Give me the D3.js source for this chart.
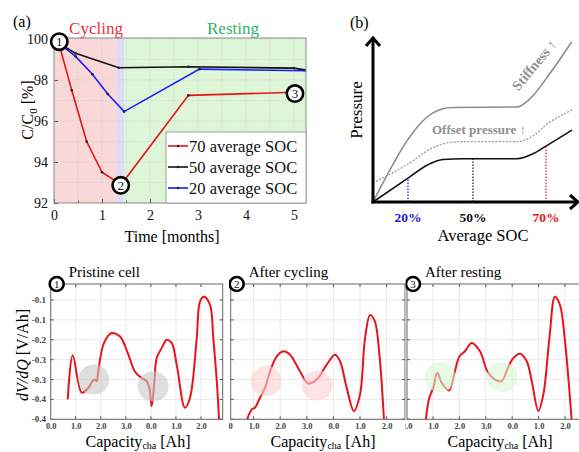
<!DOCTYPE html>
<html><head><meta charset="utf-8">
<script src="https://cdn.jsdelivr.net/npm/d3@7"></script>
<style>
html,body{margin:0;padding:0;background:#fff;}
svg{display:block;}
svg text{font-family:"Liberation Serif","Times New Roman",serif;}
</style></head><body>
<svg id="fig" width="579" height="452" font-family="Liberation Serif"></svg>
<script>
// ---------- (a) capacity retention over time ----------
const timeTicks = [0, 1, 2, 3, 4, 5];
const timeMinorTicks = [0.5, 1.5, 2.5, 3.5, 4.5];
const capTicks = [92, 94, 96, 98, 100];
const capMinorTicks = [93, 95, 97, 99];
const phaseNames = ["Cycling", "Resting"];
const phaseBounds = [0, 1.31, 1.46, 5.25];   // cycling start, cycling end, resting start, end
const seriesNames = ["70 average SOC", "50 average SOC", "20 average SOC"];
const seriesColors = ["#e8141c", "#111111", "#1a1aff"];
const soc70Time = [0.1, 0.37, 0.68, 1.0, 1.4, 2.8, 5.0];
const soc70Cap  = [99.8, 97.5, 95.0, 93.5, 92.9, 97.25, 97.4];
const soc50Time = [0.1, 0.45, 1.35, 2.8, 5.0, 5.25];
const soc50Cap  = [99.8, 99.3, 98.6, 98.65, 98.58, 98.48];
const soc20Time = [0.1, 0.45, 0.8, 1.12, 1.46, 3.03, 5.25];
const soc20Cap  = [99.8, 99.15, 98.28, 97.32, 96.46, 98.53, 98.45];
const stageTime = [0.11, 1.39, 5.02];
const stageCap  = [99.87, 92.86, 97.34];

// ---------- (b) schematic pressure vs average SOC ----------
const socLabels = ["20%", "50%", "70%"];
const socLabelColors = ["#1a1acc", "#111111", "#e8141c"];
const socU = [17.5, 50, 86.5];
const baseU = [0, 17.5, 27, 35, 45, 72, 80, 86.5, 99.5];
const baseV = [0, 14.5, 22.3, 25.8, 26.2, 26.2, 29.2, 33.9, 43.6];
const offsetU = [0, 17.5, 30, 40, 50, 72, 80, 86.5, 99.5];
const offsetV = [11.5, 23, 33, 36.3, 36.6, 36.6, 40, 46.7, 55.8];
const stiffU = [0, 30, 35, 40, 72, 78, 88.5, 99.3];
const stiffV = [0, 54, 56.5, 57.3, 57.6, 62, 78, 97];

// ---------- (c) dV/dQ curves ----------
const capTickValues = [0, 1, 2, 3, 4, 5, 6];
const capTickLabels = ["0.0", "1.0", "2.0", "3.0", "0.0", "1.0", "2.0"];
const dvTickValues = [-0.10, -0.15, -0.20, -0.25, -0.30, -0.35, -0.40];
const dvTickLabels = ["-0.1", "-0.1", "-0.2", "-0.3", "-0.3", "-0.4", "-0.4"];
const cellTitles = ["Pristine cell", "After cycling", "After resting"];
const pristineQ = [0.68,0.88,1.24,1.50,1.68,1.77,1.84,1.90,2.10,2.37,2.44,2.77,3.10,3.37,3.63,3.83,3.94,4.03,4.14,4.23,4.43,4.63,4.83,5.03,5.36,5.56,5.83,5.96,6.12,6.36,6.49,6.63,6.72];
const pristineDV = [-0.35,-0.239,-0.333,-0.321,-0.303,-0.300,-0.304,-0.279,-0.2125,-0.185,-0.183,-0.192,-0.2375,-0.281,-0.296,-0.304,-0.321,-0.367,-0.304,-0.246,-0.221,-0.200,-0.208,-0.2625,-0.371,-0.346,-0.196,-0.104,-0.092,-0.1125,-0.196,-0.304,-0.40];
const cycledQ = [0.76,0.93,1.05,1.24,1.43,1.62,1.87,2.12,2.37,2.74,3.06,3.37,3.75,4.06,4.25,4.50,4.77,5.00,5.19,5.38,5.56,5.73,5.90];
const cycledDV = [-0.40,-0.375,-0.371,-0.346,-0.321,-0.279,-0.242,-0.229,-0.2375,-0.279,-0.31,-0.30,-0.2625,-0.2375,-0.254,-0.321,-0.379,-0.3375,-0.196,-0.1375,-0.154,-0.2375,-0.40];
const restedQ = [0.73,0.86,1.01,1.16,1.33,1.61,1.83,2.00,2.21,2.47,2.78,3.06,3.35,3.60,3.81,4.04,4.30,4.55,4.74,4.99,5.18,5.41,5.62,5.81,6.00,6.25];
const restedDV = [-0.40,-0.346,-0.321,-0.283,-0.308,-0.3275,-0.279,-0.242,-0.229,-0.208,-0.229,-0.279,-0.300,-0.304,-0.275,-0.246,-0.235,-0.254,-0.304,-0.379,-0.3375,-0.196,-0.092,-0.1125,-0.204,-0.40];
// highlighted regions (capacity, dV/dQ) in each cell
const pristineSpotsQ = [1.72, 4.09];
const pristineSpotsDV = [-0.30, -0.317];
const cycledSpotsQ = [1.47, 3.39];
const cycledSpotsDV = [-0.304, -0.315];
const restedSpotsQ = [1.27, 3.62];
const restedSpotsDV = [-0.294, -0.294];
const spotColors = ["#c8c8c8", "#fbd0d0", "#d8f5d2"];

const SERIF = "Liberation Serif";
const svg = d3.select("#fig");
svg.append("rect").attr("width", 579).attr("height", 452).attr("fill", "#fff");
const defs = svg.append("defs");

function stageBadge(g, cx, cy, r, label, fs) {
  g.append("circle").attr("cx", cx).attr("cy", cy).attr("r", r)
    .attr("fill", "#fff").attr("stroke", "#000").attr("stroke-width", 2.6);
  g.append("text").attr("x", cx).attr("y", cy + fs * 0.36).attr("text-anchor", "middle")
    .attr("font-family", SERIF).attr("font-size", fs).attr("fill", "#111").text(label);
}

// ================= (a) =================
{
  const x = d3.scaleLinear([0, 5.25], [54, 306]);
  const y = d3.scaleLinear([92, 100.05], [203, 38]);
  const g = svg.append("g");
  defs.append("clipPath").attr("id", "clipA").append("rect")
    .attr("x", x(0)).attr("y", y(100.05)).attr("width", x(5.25) - x(0)).attr("height", y(92) - y(100.05));
  const plot = g.append("g").attr("clip-path", "url(#clipA)");
  const bands = [
    [phaseBounds[0], phaseBounds[1], "#fbd8d8"],
    [phaseBounds[1], phaseBounds[2], "#dcdcf6"],
    [phaseBounds[2], phaseBounds[3], "#ddf6d8"]
  ];
  bands.forEach(([a, b, c]) => plot.append("rect").attr("x", x(a)).attr("y", y(100.05))
    .attr("width", x(b) - x(a)).attr("height", y(92) - y(100.05)).attr("fill", c));
  // grid
  timeTicks.concat(timeMinorTicks).forEach(t => plot.append("line")
    .attr("x1", x(t)).attr("x2", x(t)).attr("y1", y(92)).attr("y2", y(100.05))
    .attr("stroke", "#c9c9c9").attr("stroke-width", 0.6).attr("stroke-dasharray", "1.5,1.5"));
  capTicks.concat(capMinorTicks).forEach(t => plot.append("line")
    .attr("x1", x(0)).attr("x2", x(5.25)).attr("y1", y(t)).attr("y2", y(t))
    .attr("stroke", "#c9c9c9").attr("stroke-width", 0.6).attr("stroke-dasharray", "1.5,1.5"));

  const series = [[soc70Time, soc70Cap], [soc50Time, soc50Cap], [soc20Time, soc20Cap]];
  const line = d3.line().x(d => x(d[0])).y(d => y(d[1]));
  // draw 50 then 20 then 70 so red sits on top
  [1, 2, 0].forEach(i => {
    const pts = d3.zip(series[i][0], series[i][1]);
    plot.append("path").attr("d", line(pts)).attr("fill", "none")
      .attr("stroke", seriesColors[i]).attr("stroke-width", 1.6);
    plot.selectAll(null).data(pts).join("circle").attr("cx", d => x(d[0])).attr("cy", d => y(d[1]))
      .attr("r", 1.3).attr("fill", "#222");
  });

  // axes
  g.append("g").attr("transform", `translate(0,${y(92)})`)
    .call(d3.axisBottom(x).tickValues(timeTicks).tickSize(-4).tickPadding(7).tickFormat(d3.format("d")));
  g.append("g").attr("transform", `translate(0,${y(92)})`)
    .call(d3.axisBottom(x).tickValues(timeMinorTicks).tickSize(-2.5).tickFormat(""));
  g.append("g").attr("transform", `translate(${x(0)},0)`)
    .call(d3.axisLeft(y).tickValues(capTicks).tickSize(-4).tickPadding(6).tickFormat(d3.format("d")));
  g.selectAll(".domain").remove();
  g.selectAll(".tick line").attr("stroke", "#555");
  g.selectAll(".tick text").attr("font-family", SERIF).attr("font-size", 14).attr("fill", "#111");
  g.append("rect").attr("x", x(0)).attr("y", y(100.05)).attr("width", x(5.25) - x(0))
    .attr("height", y(92) - y(100.05)).attr("fill", "none").attr("stroke", "#8a8a8a").attr("stroke-width", 1);

  // legend
  const lg = g.append("g");
  lg.append("rect").attr("x", 166).attr("y", 132).attr("width", 140).attr("height", 71)
    .attr("fill", "#fff").attr("stroke", "#8a8a8a").attr("stroke-width", 0.8);
  seriesNames.forEach((nm, i) => {
    const yy = 146 + i * 21;
    lg.append("line").attr("x1", 168).attr("x2", 188).attr("y1", yy).attr("y2", yy)
      .attr("stroke", seriesColors[i]).attr("stroke-width", 1.6);
    lg.append("circle").attr("cx", 178).attr("cy", yy).attr("r", 1.2).attr("fill", "#222");
    lg.append("text").attr("x", 189).attr("y", yy + 5.5).attr("font-family", SERIF)
      .attr("font-size", 16.5).attr("fill", "#111").text(nm);
  });

  // stage badges
  stageTime.forEach((t, i) => stageBadge(g, x(t), y(stageCap[i]), 8.2, String(i + 1), 13));

  // labels
  g.append("text").attr("x", 13).attr("y", 27).attr("font-family", SERIF).attr("font-size", 16).text("(a)");
  g.append("text").attr("x", 96).attr("y", 34).attr("text-anchor", "middle").attr("font-family", SERIF)
    .attr("font-size", 17).attr("fill", "#e8323c").text(phaseNames[0]);
  g.append("text").attr("x", 233).attr("y", 34).attr("text-anchor", "middle").attr("font-family", SERIF)
    .attr("font-size", 17).attr("fill", "#2fb36a").text(phaseNames[1]);
  g.append("text").attr("x", 172).attr("y", 242).attr("text-anchor", "middle").attr("font-family", SERIF)
    .attr("font-size", 16).text("Time [months]");
  const yl = g.append("text").attr("transform", "translate(33,110) rotate(-90)")
    .attr("text-anchor", "middle").attr("font-family", SERIF).attr("font-size", 16);
  yl.append("tspan").text("C/C");
  yl.append("tspan").attr("font-size", 11).attr("dy", 4).text("0");
  yl.append("tspan").attr("dy", -4).text(" [%]");
}

// ================= (b) =================
{
  const sx = d3.scaleLinear([0, 100], [373, 573]);
  const sy = d3.scaleLinear([0, 100], [202, 37]);
  const g = svg.append("g");
  const curve = d3.line().x(d => sx(d[0])).y(d => sy(d[1])).curve(d3.curveMonotoneX);

  g.append("path").attr("d", curve(d3.zip(stiffU, stiffV))).attr("fill", "none")
    .attr("stroke", "#8c8c8c").attr("stroke-width", 1.6);
  g.append("path").attr("d", curve(d3.zip(offsetU, offsetV))).attr("fill", "none")
    .attr("stroke", "#9a9a9a").attr("stroke-width", 1.3).attr("stroke-dasharray", "2,1.5");
  g.append("path").attr("d", curve(d3.zip(baseU, baseV))).attr("fill", "none")
    .attr("stroke", "#111").attr("stroke-width", 1.6);

  // dotted drop lines from the base curve to the SOC axis
  const baseInterp = u => {
    const pts = d3.zip(baseU, baseV);
    for (let i = 1; i < pts.length; i++) {
      if (u <= pts[i][0]) {
        const [u0, v0] = pts[i - 1], [u1, v1] = pts[i];
        return v0 + (v1 - v0) * (u - u0) / (u1 - u0);
      }
    }
    return pts[pts.length - 1][1];
  };
  socU.forEach((u, i) => {
    g.append("line").attr("x1", sx(u)).attr("x2", sx(u)).attr("y1", sy(0)).attr("y2", sy(baseInterp(u)))
      .attr("stroke", socLabelColors[i]).attr("stroke-width", 1.2).attr("stroke-dasharray", "1.5,1.5");
    g.append("text").attr("x", sx(u)).attr("y", 222).attr("text-anchor", "middle").attr("font-family", SERIF)
      .attr("font-size", 13.5).attr("font-weight", "bold").attr("fill", socLabelColors[i]).text(socLabels[i]);
  });

  // axes with open arrowheads
  g.append("line").attr("x1", sx(0)).attr("x2", sx(0)).attr("y1", sy(0) + 1.5).attr("y2", sy(100))
    .attr("stroke", "#000").attr("stroke-width", 3);
  g.append("path").attr("d", `M${sx(0) - 7},${sy(100) + 9} L${sx(0)},${sy(100) + 1} L${sx(0) + 7},${sy(100) + 9}`)
    .attr("fill", "none").attr("stroke", "#000").attr("stroke-width", 3);
  g.append("line").attr("x1", sx(0) - 1.5).attr("x2", sx(102.5)).attr("y1", sy(0)).attr("y2", sy(0))
    .attr("stroke", "#000").attr("stroke-width", 3);
  g.append("path").attr("d", `M${sx(102.5) - 8},${sy(0) - 7} L${sx(102.5)},${sy(0)} L${sx(102.5) - 8},${sy(0) + 7}`)
    .attr("fill", "none").attr("stroke", "#000").attr("stroke-width", 3);

  g.append("text").attr("x", 350).attr("y", 28).attr("font-family", SERIF).attr("font-size", 16).text("(b)");
  g.append("text").attr("transform", "translate(362,110) rotate(-90)").attr("text-anchor", "middle")
    .attr("font-family", SERIF).attr("font-size", 17).text("Pressure");
  g.append("text").attr("x", 483).attr("y", 241).attr("text-anchor", "middle").attr("font-family", SERIF)
    .attr("font-size", 16.5).text("Average SOC");
  g.append("text").attr("x", 479).attr("y", 134).attr("text-anchor", "middle").attr("font-family", SERIF)
    .attr("font-size", 13).attr("font-weight", "bold").attr("fill", "#909090").text("Offset pressure \u2191");
  g.append("text").attr("transform", "translate(538,68) rotate(-50)").attr("text-anchor", "middle")
    .attr("font-family", SERIF).attr("font-size", 14).attr("font-weight", "bold").attr("fill", "#909090")
    .text("Stiffness \u2191");
}

// ================= (c) =================
{
  const top = 284, bottom = 419.3;
  const y = d3.scaleLinear([-0.4, -0.1], [bottom, 300]);
  const cells = [
    { q: pristineQ, dv: pristineDV, sq: pristineSpotsQ, sdv: pristineSpotsDV, x0: 50.7, step: 25.05, left: 50.7, right: 222.7, clipL: 0, labelX: 138 },
    { q: cycledQ, dv: cycledDV, sq: cycledSpotsQ, sdv: cycledSpotsDV, x0: 227, step: 26.6, left: 230.7, right: 405, clipL: 229, labelX: 323 },
    { q: restedQ, dv: restedDV, sq: restedSpotsQ, sdv: restedSpotsDV, x0: 406.6, step: 26.4, left: 407, right: 590, clipL: 405.5, labelX: 500 }
  ];
  svg.append("text").attr("x", 8).attr("y", 275).attr("font-family", SERIF).attr("font-size", 16).text("(c)");

  cells.forEach((c, k) => {
    const x = d3.scaleLinear([0, 6], [c.x0, c.x0 + 6 * c.step]);
    defs.append("clipPath").attr("id", "cellClip" + k).append("rect")
      .attr("x", c.clipL).attr("y", 0).attr("width", 579 - c.clipL).attr("height", 452);
    defs.append("clipPath").attr("id", "cellPlot" + k).append("rect")
      .attr("x", c.left).attr("y", top).attr("width", c.right - c.left).attr("height", bottom - top);
    const outer = svg.append("g").attr("clip-path", `url(#cellClip${k})`);
    outer.append("rect").attr("x", c.clipL).attr("y", 262).attr("width", c.right - c.clipL + 4)
      .attr("height", 190).attr("fill", "#fff");
    const plot = outer.append("g").attr("clip-path", `url(#cellPlot${k})`);

    // grid
    capTickValues.forEach(t => plot.append("line").attr("x1", x(t)).attr("x2", x(t))
      .attr("y1", top).attr("y2", bottom).attr("stroke", "#e4e4e4").attr("stroke-width", 0.8));
    dvTickValues.forEach(t => plot.append("line").attr("x1", c.left).attr("x2", c.right)
      .attr("y1", y(t)).attr("y2", y(t)).attr("stroke", "#e4e4e4").attr("stroke-width", 0.8));

    const line = d3.line().x(d => x(d[0])).y(d => y(d[1])).curve(d3.curveCatmullRom.alpha(0.5));
    plot.append("path").attr("d", line(d3.zip(c.q, c.dv))).attr("fill", "none")
      .attr("stroke", "#e8141c").attr("stroke-width", 2);
    c.sq.forEach((q, i) => plot.append("ellipse").attr("cx", x(q)).attr("cy", y(c.sdv[i]))
      .attr("rx", 15.5).attr("ry", 15).attr("fill", spotColors[k]).attr("opacity", 0.6));

    // axes
    const ax = outer.append("g").attr("transform", `translate(0,${bottom})`)
      .call(d3.axisBottom(x).tickValues(capTickValues).tickSize(0).tickPadding(4)
        .tickFormat((d, i) => capTickLabels[i]));
    ax.select(".domain").remove();
    ax.selectAll("text").attr("font-family", "Liberation Sans, Arial, sans-serif").attr("font-size", 8.5)
      .attr("font-weight", "bold").attr("fill", "#444");
    const tickG = outer.append("g");
    capTickValues.forEach(t => {
      if (x(t) > c.left && x(t) < c.right) {
        tickG.append("line").attr("x1", x(t)).attr("x2", x(t)).attr("y1", bottom).attr("y2", bottom - 3).attr("stroke", "#555");
        tickG.append("line").attr("x1", x(t)).attr("x2", x(t)).attr("y1", top).attr("y2", top + 3).attr("stroke", "#555");
      }
    });
    dvTickValues.forEach(t => {
      tickG.append("line").attr("x1", c.left).attr("x2", c.left + 3).attr("y1", y(t)).attr("y2", y(t)).attr("stroke", "#555");
      tickG.append("line").attr("x1", c.right).attr("x2", c.right - 3).attr("y1", y(t)).attr("y2", y(t)).attr("stroke", "#555");
    });
    if (k === 0) {
      dvTickValues.forEach((t, i) => outer.append("text").attr("x", 46).attr("y", y(t) + 3)
        .attr("text-anchor", "end").attr("font-family", "Liberation Sans, Arial, sans-serif")
        .attr("font-size", 9).attr("font-weight", "bold").attr("fill", "#444").text(dvTickLabels[i]));
    }
    outer.append("rect").attr("x", c.left).attr("y", top).attr("width", c.right - c.left)
      .attr("height", bottom - top).attr("fill", "none").attr("stroke", "#666").attr("stroke-width", 1);

    stageBadge(outer, c.left + 6, top, 7, String(k + 1), 11);
    outer.append("text").attr("x", c.left + 18).attr("y", 277).attr("font-family", SERIF)
      .attr("font-size", 15).text(cellTitles[k]);
    const xl = outer.append("text").attr("x", c.labelX).attr("y", 447).attr("text-anchor", "middle")
      .attr("font-family", SERIF).attr("font-size", 16);
    xl.append("tspan").text("Capacity");
    xl.append("tspan").attr("font-size", 10).attr("dy", 2).text("cha");
    xl.append("tspan").attr("dy", -2).text(" [Ah]");
  });

  const yl = svg.append("text").attr("transform", "translate(28,355) rotate(-90)")
    .attr("text-anchor", "middle").attr("font-family", SERIF).attr("font-size", 16);
  yl.append("tspan").attr("font-style", "italic").text("dV/dQ");
  yl.append("tspan").text(" [V/Ah]");
}
</script>
</body></html>
